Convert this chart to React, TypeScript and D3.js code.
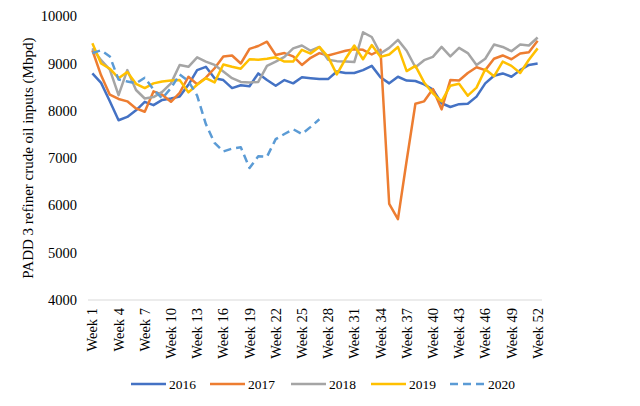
import React from "react";
import * as d3 from "d3";

const weeks: number[] = Array.from({ length: 52 }, (_, i) => i + 1);
const tickWeeks: number[] = [1, 4, 7, 10, 13, 16, 19, 22, 25, 28, 31, 34, 37, 40, 43, 46, 49, 52];
const yTicks: number[] = [4000, 5000, 6000, 7000, 8000, 9000, 10000];

const s2016: number[] = [8790, 8590, 8200, 7800, 7870, 8010, 8190, 8120, 8230, 8260, 8300, 8550, 8860, 8930, 8690, 8650, 8480, 8540, 8520, 8790, 8650, 8530, 8650, 8580, 8710, 8690, 8670, 8670, 8830, 8800, 8800, 8860, 8950, 8710, 8580, 8720, 8640, 8630, 8560, 8450, 8160, 8080, 8140, 8150, 8300, 8580, 8740, 8790, 8720, 8860, 8970, 9000];
const s2017: number[] = [9280, 8750, 8340, 8250, 8200, 8050, 7980, 8410, 8340, 8190, 8380, 8720, 8560, 8700, 8900, 9150, 9170, 9000, 9310, 9370, 9460, 9180, 9220, 9150, 8970, 9120, 9220, 9170, 9220, 9270, 9300, 9290, 9190, 9290, 6030, 5710, 6950, 8150, 8200, 8460, 8030, 8650, 8640, 8800, 8920, 8860, 9100, 9170, 9090, 9210, 9240, 9480];
const s2018: number[] = [9320, 9070, 8870, 8330, 8860, 8440, 8260, 8290, 8400, 8580, 8970, 8930, 9130, 9040, 8970, 8830, 8690, 8610, 8600, 8610, 8950, 9040, 9140, 9320, 9380, 9270, 9350, 9080, 9050, 9040, 9030, 9660, 9560, 9210, 9330, 9500, 9270, 8920, 9070, 9140, 9350, 9150, 9330, 9220, 8970, 9100, 9400, 9350, 9260, 9400, 9380, 9550];
const s2019: number[] = [9430, 9000, 8890, 8690, 8820, 8570, 8480, 8580, 8620, 8640, 8650, 8390, 8550, 8690, 8600, 8980, 8930, 8890, 9090, 9080, 9100, 9130, 9040, 9040, 9290, 9210, 9350, 9140, 8770, 9100, 9380, 9090, 9390, 9140, 9190, 9350, 8840, 8950, 8600, 8370, 8200, 8530, 8570, 8320, 8490, 8880, 8730, 9040, 8950, 8800, 9080, 9320];
const s2020: number[] = [9220, 9280, 9150, 8660, 8620, 8580, 8700, 8450, 8260, 8480, 8770, 8630, 8320, 7720, 7320, 7140, 7200, 7230, 6790, 7040, 7030, 7400, 7510, 7610, 7510, 7660, 7820];

const seriesNames: string[] = ["2016", "2017", "2018", "2019", "2020"];
const seriesValues: number[][] = [s2016, s2017, s2018, s2019, s2020];
const seriesColors: string[] = ["#4472C4", "#ED7D31", "#A5A5A5", "#FFC000", "#5B9BD5"];
const seriesDash: (string | undefined)[] = [undefined, undefined, undefined, undefined, "8,5"];

const FONT = "'Liberation Serif', 'Times New Roman', serif";

export default function App() {
  const left = 88;
  const right = 542;
  const top = 16.2;
  const bottom = 300;

  const x = d3.scaleBand<number>().domain(weeks).range([left, right]).padding(0);
  const cx = (w: number) => (x(w) as number) + x.bandwidth() / 2;
  const y = d3.scaleLinear().domain([4000, 10000]).range([bottom, top]);

  const line = d3
    .line<number>()
    .x((_, i) => cx(weeks[i]))
    .y((d) => y(d));

  const legendX = [131, 210, 291, 371, 450];
  const legendY = 384;

  return (
    <svg
      width={640}
      height={406}
      style={{ position: "absolute", left: 0, top: 0, background: "#fff" }}
      fontFamily={FONT}
    >
      <rect x={0} y={0} width={640} height={406} fill="#fff" />
      {/* y tick labels */}
      {yTicks.map((t) => (
        <text key={t} x={77} y={y(t)} dy="0.35em" textAnchor="end" fontSize={14.5} fill="#000">
          {t}
        </text>
      ))}
      {/* x axis line */}
      <line x1={left} x2={right} y1={bottom} y2={bottom} stroke="#d9d9d9" strokeWidth={1} />
      {/* x tick labels */}
      {tickWeeks.map((w) => (
        <text
          key={w}
          transform={`translate(${cx(w)},${308}) rotate(-90)`}
          dy="0.35em"
          textAnchor="end"
          fontSize={14.5}
          fill="#000"
        >
          {`Week ${w}`}
        </text>
      ))}
      {/* y axis title */}
      <text
        transform={`translate(${28},${(top + bottom) / 2}) rotate(-90)`}
        dy="0.35em"
        textAnchor="middle"
        fontSize={15}
        fill="#000"
      >
        PADD 3 refiner crude oil inputs (Mbpd)
      </text>
      {/* lines */}
      {seriesValues.map((vals, i) => (
        <path
          key={seriesNames[i]}
          d={line(vals) || ""}
          fill="none"
          stroke={seriesColors[i]}
          strokeWidth={2.5}
          strokeLinejoin="round"
          strokeDasharray={seriesDash[i]}
        />
      ))}
      {/* legend */}
      {seriesNames.map((n, i) => (
        <g key={n}>
          <line
            x1={legendX[i]}
            x2={legendX[i] + 35}
            y1={legendY}
            y2={legendY}
            stroke={seriesColors[i]}
            strokeWidth={2.5}
            strokeDasharray={seriesDash[i]}
          />
          <text x={legendX[i] + 38} y={legendY} dy="0.35em" fontSize={13.5} fill="#000">
            {n}
          </text>
        </g>
      ))}
    </svg>
  );
}
